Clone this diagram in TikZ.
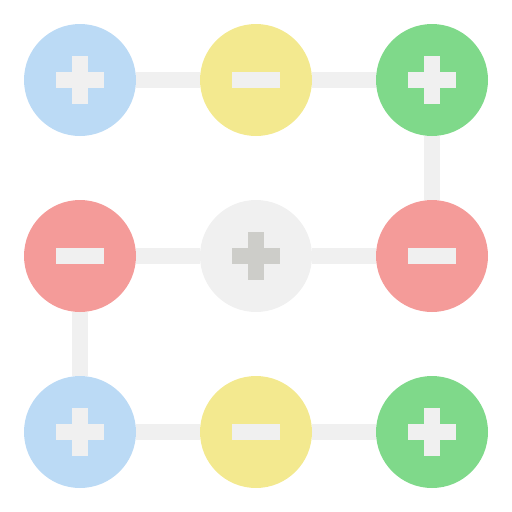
\documentclass[tikz,border=0pt]{standalone}
\usetikzlibrary{backgrounds}
\definecolor{cblue}{HTML}{BBDAF5}
\definecolor{cyellow}{HTML}{F3E98F}
\definecolor{cgreen}{HTML}{7FD98A}
\definecolor{cred}{HTML}{F49B99}
\definecolor{cgrey}{HTML}{F0F0F0}
\definecolor{cmark}{HTML}{CDCDC9}
\tikzset{
  dot/.style={circle,fill=#1,inner sep=0pt,minimum size=112pt},
  link/.style={cgrey,line width=16pt},
  plus/.pic={\fill[pic actions] (-24pt,-8pt) rectangle (24pt,8pt);
             \fill[pic actions] (-8pt,-24pt) rectangle (8pt,24pt);},
  minus/.pic={\fill[pic actions] (-24pt,-8pt) rectangle (24pt,8pt);}
}
\begin{document}
\begin{tikzpicture}[x=1pt,y=-1pt]
\useasboundingbox (0,0) rectangle (512,512);
\node[dot=cblue] (a1) at (80,80) {};
\node[dot=cyellow] (a2) at (256,80) {};
\node[dot=cgreen] (a3) at (432,80) {};
\node[dot=cred] (b1) at (80,256) {};
\node[dot=cgrey] (b2) at (256,256) {};
\node[dot=cred] (b3) at (432,256) {};
\node[dot=cblue] (c1) at (80,432) {};
\node[dot=cyellow] (c2) at (256,432) {};
\node[dot=cgreen] (c3) at (432,432) {};
\begin{scope}[on background layer]
\draw[link] (a1) -- (a2) -- (a3) -- (b3) -- (b2) -- (b1) -- (c1) -- (c2) -- (c3);
\end{scope}
% signs
\pic[cgrey] at (a1) {plus};
\pic[cgrey] at (a2) {minus};
\pic[cgrey] at (a3) {plus};
\pic[cgrey] at (b1) {minus};
\pic[cmark] at (b2) {plus};
\pic[cgrey] at (b3) {minus};
\pic[cgrey] at (c1) {plus};
\pic[cgrey] at (c2) {minus};
\pic[cgrey] at (c3) {plus};
\end{tikzpicture}
\end{document}
